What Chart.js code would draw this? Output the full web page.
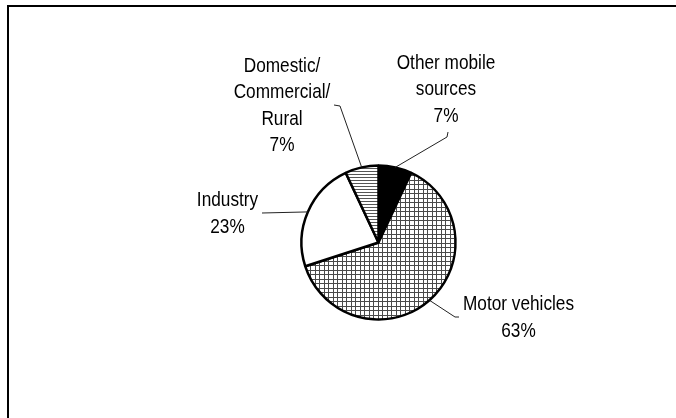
<!DOCTYPE html>
<html>
<head>
<meta charset="utf-8">
<script src="https://cdn.jsdelivr.net/npm/chart.js@4/dist/chart.umd.min.js"></script>
<style>
  html, body { margin: 0; padding: 0; background: #fff; }
  #wrap { width: 676px; height: 418px; position: relative; }
</style>
</head>
<body>
<div id="wrap"><canvas id="chartSources" width="676" height="418"></canvas></div>
<script>
// Emission sources, share of total (%)
const categories = ["Other mobile sources", "Motor vehicles", "Industry", "Domestic/Commercial/Rural"];
const shares = [7, 63, 23, 7];
// wrapped label text for each slice
const labelLines = [
    ["Other mobile", "sources"],
    ["Motor vehicles"],
    ["Industry"],
    ["Domestic/", "Commercial/", "Rural"]
];

// label block placement relative to pie centre: text centre x, first baseline y, leader elbow, leader end
const labelLayout = [
    { x: 67.5, y: -174, elbow: [68.5, -105.5], end: [69.5, -110.5] },
    { x: 140, y: 67.5, elbow: [76.5, 74.5], end: [80.5, 74.5] },
    { x: -151, y: -36.5, elbow: [-116.5, -29.5], end: [-116.5, -29.5] },
    { x: -96.5, y: -171, elbow: [-38.5, -136.5], end: [-44.5, -137.5] }
];
const LINE_H = 26.5;
const FONT = "21px 'Liberation Sans', Arial, sans-serif";
const NARROW = 0.82; // horizontal squeeze for a condensed face

// fill patterns
function gridPattern() {
    const c = document.createElement("canvas");
    c.width = 9; c.height = 9;
    const g = c.getContext("2d");
    g.fillStyle = "#fff";
    g.fillRect(0, 0, 9, 9);
    g.fillStyle = "#4a4a4a";
    g.fillRect(0, 0, 9, 1);
    g.fillRect(0, 4, 9, 1);
    g.fillRect(0, 0, 1, 9);
    g.fillRect(4, 0, 1, 9);
    return g.createPattern(c, "repeat");
}

function stripePattern() {
    const c = document.createElement("canvas");
    c.width = 3; c.height = 3;
    const g = c.getContext("2d");
    g.fillStyle = "#fff";
    g.fillRect(0, 0, 3, 3);
    g.fillStyle = "#555";
    g.fillRect(0, 0, 3, 1);
    return g.createPattern(c, "repeat");
}

// frame lines along top and left edge
const framePlugin = {
    id: "frame",
    beforeDraw(chart) {
        const ctx = chart.ctx;
        ctx.save();
        ctx.fillStyle = "#000";
        ctx.fillRect(7, 5, chart.width - 7, 2);
        ctx.fillRect(7, 5, 2, chart.height - 5);
        ctx.restore();
    }
};

// category names, percentages and leader lines
const labelPlugin = {
    id: "sliceLabels",
    afterDatasetsDraw(chart) {
        const ctx = chart.ctx;
        const meta = chart.getDatasetMeta(0);
        meta.data.forEach((arc, i) => {
            const p = arc.getProps(["x", "y", "startAngle", "endAngle", "outerRadius"], true);
            const mid = (p.startAngle + p.endAngle) / 2;
            const lay = labelLayout[i];
            const ex = p.x + Math.cos(mid) * p.outerRadius;
            const ey = p.y + Math.sin(mid) * p.outerRadius;

            ctx.save();
            ctx.strokeStyle = "#222";
            ctx.lineWidth = 1;
            ctx.beginPath();
            ctx.moveTo(ex, ey);
            ctx.lineTo(p.x + lay.elbow[0], p.y + lay.elbow[1]);
            ctx.lineTo(p.x + lay.end[0], p.y + lay.end[1]);
            ctx.stroke();
            ctx.restore();

            ctx.save();
            ctx.translate(p.x + lay.x, p.y + lay.y);
            ctx.scale(NARROW, 1);
            ctx.fillStyle = "#000";
            ctx.font = FONT;
            ctx.textAlign = "center";
            ctx.textBaseline = "alphabetic";
            const lines = labelLines[i].concat([shares[i] + "%"]);
            lines.forEach((t, k) => {
                ctx.fillText(t, 0, k * LINE_H);
            });
            ctx.restore();
        });
    }
};

const ctx = document.getElementById("chartSources").getContext("2d");
new Chart(ctx, {
    type: "pie",
    data: {
        labels: categories,
        datasets: [
            {
                data: shares,
                backgroundColor: ["#000", gridPattern(), "#fff", stripePattern()],
                borderColor: "#000",
                borderWidth: 2.5,
                hoverOffset: 0,
                radius: 77
            }
        ]
    },
    options: {
        responsive: false,
        animation: false,
        layout: {
            padding: { left: 81, right: 0, top: 67, bottom: 0 }
        },
        plugins: {
            legend: { display: false },
            tooltip: { enabled: false }
        }
    },
    plugins: [framePlugin, labelPlugin]
});
</script>
</body>
</html>
